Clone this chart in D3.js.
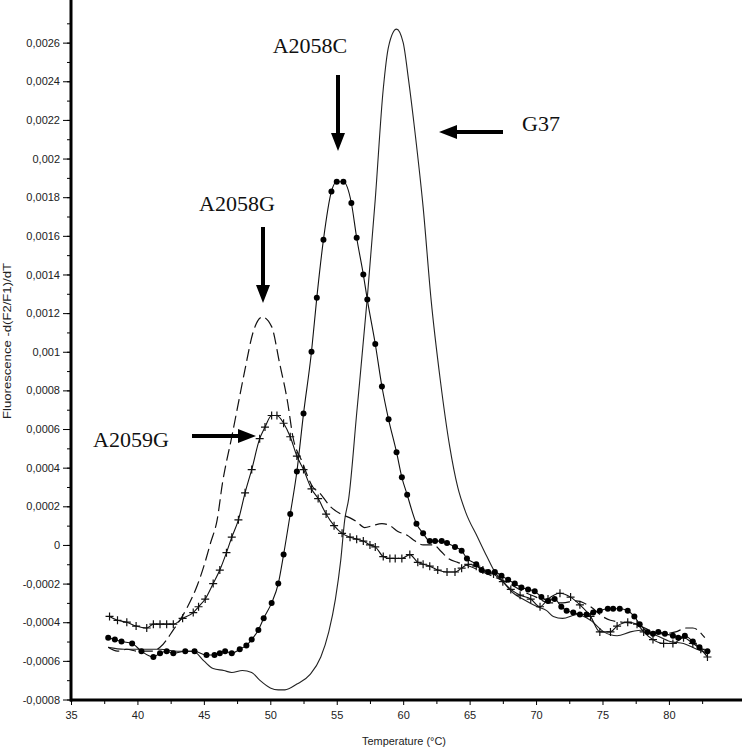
<!DOCTYPE html>
<html>
<head>
<meta charset="utf-8">
<script src="https://cdn.jsdelivr.net/npm/d3@7"></script>
<style>
body { margin: 0; background: #fff; }
svg { display: block; }
.axis path, .axis line { stroke: #000; }
.axis text { font-family: "Liberation Sans", Arial, sans-serif; font-size: 11px; fill: #222; }
.note { font-family: "Liberation Serif", "Times New Roman", serif; font-size: 22px; fill: #111; }
</style>
</head>
<body>
<div id="chart"></div>
<script>
// temperature (C) and -d(F2/F1)/dT values
var g37T = [37.8,39.0,40.5,41.7,43.0,44.2,45.0,45.7,46.5,47.1,47.9,48.6,49.2,50.0,50.6,51.1,52.0,53.0,53.8,54.4,54.9,55.3,55.6,55.9,56.5,57.3,57.9,58.5,58.9,59.5,60.0,60.4,60.9,61.5,62.1,62.8,63.5,64.1,64.7,65.6,66.3,66.9,67.5,68.3,69.0,70.1,70.8,71.3,72.0,73.1,74.1,75.1,76.1,77.1,78.1,79.1,80.1,81.1,82.1,82.9];
var g37V = [-0.00053,-0.00054,-0.00054,-0.00054,-0.00055,-0.00055,-0.0006,-0.00064,-0.00065,-0.00066,-0.00065,-0.00066,-0.0007,-0.00074,-0.00075,-0.00075,-0.00072,-0.00067,-0.00058,-0.00045,-0.00028,-0.00008,0.00013,0.00024,0.00068,0.00128,0.00179,0.00236,0.00258,0.00267,0.0026,0.00241,0.00213,0.00175,0.00127,0.00085,0.00051,0.0003,0.00017,0.00004,-0.00006,-0.00014,-0.00019,-0.00025,-0.00028,-0.00032,-0.00034,-0.00037,-0.00038,-0.00036,-0.00039,-0.00045,-0.00047,-0.00045,-0.00044,-0.00047,-0.0005,-0.00051,-0.00054,-0.00056];

var a2058cT = [37.8,38.3,38.8,39.6,40.3,41.2,41.7,42.2,42.7,43.6,44.3,45.2,45.8,46.2,46.6,47.1,47.7,48.2,48.6,49.1,49.5,50.1,50.6,51.0,51.5,52.0,52.5,53.1,53.5,54.0,54.6,55.0,55.5,56.1,56.5,57.0,57.3,57.9,58.4,58.9,59.5,59.9,60.3,61.0,61.5,62.0,62.4,62.9,63.3,63.9,64.4,64.8,65.5,65.9,66.4,66.9,67.4,67.9,68.4,68.9,69.4,69.9,70.4,70.9,71.4,71.9,72.3,72.8,73.3,73.8,74.3,74.8,75.4,75.8,76.3,76.9,77.4,77.8,78.4,78.8,79.2,79.7,80.3,80.7,81.2,81.8,82.3,82.9];
var a2058cV = [-0.00048,-0.00049,-0.0005,-0.00051,-0.00055,-0.00058,-0.00056,-0.00055,-0.00056,-0.00055,-0.00055,-0.00057,-0.00057,-0.00056,-0.00055,-0.00056,-0.00054,-0.00052,-0.00049,-0.00044,-0.00038,-0.0003,-0.0002,-0.00005,0.00016,0.00038,0.00068,0.001,0.00128,0.00158,0.00183,0.00188,0.00188,0.00177,0.00159,0.0014,0.00127,0.00104,0.00082,0.00065,0.00048,0.00035,0.00026,0.00011,0.00006,0.00002,0.00002,0.00002,0.00001,-0.00001,-0.00003,-0.00007,-0.0001,-0.00013,-0.00014,-0.00014,-0.00016,-0.00018,-0.0002,-0.00022,-0.00023,-0.00024,-0.00027,-0.00029,-0.00028,-0.00032,-0.00034,-0.00035,-0.00036,-0.00036,-0.00035,-0.00034,-0.00033,-0.00033,-0.00033,-0.00034,-0.00037,-0.00041,-0.00045,-0.00046,-0.00045,-0.00046,-0.00047,-0.00048,-0.00047,-0.0005,-0.00053,-0.00055];

var a2058gT = [37.8,38.5,39.2,40.0,41.0,41.7,42.7,43.7,44.5,45.0,45.5,46.0,46.4,47.1,47.5,48.1,48.7,49.4,50.1,50.7,51.3,51.7,52.4,53.2,53.7,54.5,55.3,56.0,56.5,57.1,57.7,58.4,59.0,59.6,60.3,60.9,61.5,62.3,62.8,63.4,64.1,65.0,66.0,67.0,68.0,69.0,70.0,71.0,72.0,73.0,74.1,75.0,75.6,76.5,77.5,78.5,79.5,80.5,81.3,81.8,82.7];
var a2058gV = [-0.00053,-0.00055,-0.00054,-0.00055,-0.00055,-0.00053,-0.00044,-0.00033,-0.00021,-0.00011,0.00001,0.00013,0.00032,0.00056,0.0007,0.00091,0.0011,0.00118,0.00113,0.00094,0.00074,0.00056,0.00043,0.0003,0.00027,0.0002,0.00016,0.00014,0.00012,0.00009,0.0001,0.00011,0.0001,0.00007,0.00005,0.00002,0,0,-0.00003,-0.00007,-0.00009,-0.00011,-0.00014,-0.00017,-0.0002,-0.00024,-0.00027,-0.0003,-0.0003,-0.00029,-0.00032,-0.00037,-0.00039,-0.0004,-0.00041,-0.00044,-0.00046,-0.00045,-0.00043,-0.00043,-0.00048];

var a2059gT = [37.9,38.5,39.2,39.9,40.7,41.2,41.7,42.2,42.7,43.4,44.2,44.6,45.1,45.7,46.2,46.7,47.1,47.6,48.1,48.6,49.2,49.6,50.1,50.5,51.0,51.5,52.0,52.5,53.1,53.6,54.2,54.8,55.4,56.0,56.5,57.0,57.5,57.9,58.5,59.0,59.4,59.9,60.5,61.1,61.5,62.0,62.6,63.3,63.9,64.4,64.9,65.5,66.0,66.8,67.5,68.1,68.8,69.6,70.3,70.9,71.8,72.6,73.3,74.1,74.8,75.6,76.1,76.9,77.6,78.1,78.8,79.6,80.3,81.1,81.8,82.4,82.9];
var a2059gV = [-0.00037,-0.00039,-0.0004,-0.00042,-0.00043,-0.00041,-0.00041,-0.00041,-0.00041,-0.00038,-0.00035,-0.00032,-0.00028,-0.0002,-0.00013,-0.00004,0.00004,0.00013,0.00027,0.00039,0.00055,0.00061,0.00067,0.00067,0.00063,0.00056,0.00046,0.00039,0.00029,0.00024,0.00016,0.0001,0.00006,0.00004,0.00003,0.00002,0,-0.00001,-0.00006,-0.00007,-0.00007,-0.00007,-0.00005,-0.00009,-0.0001,-0.00011,-0.00013,-0.00014,-0.00014,-0.00012,-0.0001,-0.00011,-0.00013,-0.00015,-0.00019,-0.00023,-0.00026,-0.00028,-0.00032,-0.00028,-0.00025,-0.00027,-0.00031,-0.00037,-0.00045,-0.00045,-0.00042,-0.0004,-0.00041,-0.00045,-0.00049,-0.00051,-0.00051,-0.00048,-0.00051,-0.00054,-0.00058];

var xMajor = [35,40,45,50,55,60,65,70,75,80];
var yMajor = [-0.0008,-0.0006,-0.0004,-0.0002,0,0.0002,0.0004,0.0006,0.0008,0.001,0.0012,0.0014,0.0016,0.0018,0.002,0.0022,0.0024,0.0026];

// annotations: label, label position, arrow from -> to
var notes = [
  {text: "A2058C", x: 310, y: 53, x1: 338, y1: 75, x2: 338, y2: 151},
  {text: "G37", x: 541, y: 131, x1: 503, y1: 132, x2: 439, y2: 132},
  {text: "A2058G", x: 237, y: 211, x1: 263, y1: 227, x2: 263, y2: 303},
  {text: "A2059G", x: 131, y: 447, x1: 192, y1: 436, x2: 256, y2: 436}
];

var width = 742, height = 750;

var svg = d3.select("#chart").append("svg")
    .attr("width", width)
    .attr("height", height);

var x = d3.scaleLinear().domain([35, 85.5]).range([71, 742]);
var y = d3.scaleLinear().domain([-0.0008, 0.0028]).range([699.5, 4]);

var fmt = function(d) { return (+d.toFixed(4)).toString().replace(".", ","); };

// minor ticks first, majors on top
svg.append("g")
    .attr("class", "axis")
    .attr("transform", "translate(71,0)")
    .call(d3.axisLeft(y).tickValues(d3.range(-8, 28, 1).map(function(i) { return i * 0.0001; })).tickSize(4).tickFormat(""))
    .select(".domain").remove();

svg.append("g")
    .attr("class", "axis")
    .attr("transform", "translate(71,0)")
    .call(d3.axisLeft(y).tickValues(yMajor).tickSize(8).tickPadding(3).tickFormat(fmt))
    .call(function(g) { g.select(".domain").remove(); });

svg.append("g")
    .attr("class", "axis")
    .attr("transform", "translate(0,700)")
    .call(d3.axisBottom(x).tickValues(d3.range(37.5, 85, 5)).tickSize(4).tickFormat(""))
    .select(".domain").remove();

svg.append("g")
    .attr("class", "axis")
    .attr("transform", "translate(0,700)")
    .call(d3.axisBottom(x).tickValues(xMajor).tickSize(5).tickPadding(6).tickFormat(d3.format("d")))
    .call(function(g) { g.select(".domain").remove(); });

// thick axis lines
svg.append("line").attr("x1", 71).attr("x2", 71).attr("y1", 0).attr("y2", 701.5)
    .attr("stroke", "#000").attr("stroke-width", 3);
svg.append("line").attr("x1", 70).attr("x2", 742).attr("y1", 700).attr("y2", 700)
    .attr("stroke", "#000").attr("stroke-width", 3);

svg.append("text")
    .attr("transform", "translate(11,341) rotate(-90)")
    .attr("text-anchor", "middle")
    .attr("textLength", 156)
    .attr("lengthAdjust", "spacingAndGlyphs")
    .style("font-family", "Liberation Sans, Arial, sans-serif")
    .style("font-size", "11px")
    .attr("fill", "#222")
    .text("Fluorescence -d(F2/F1)/dT");

svg.append("text")
    .attr("x", 404).attr("y", 745)
    .attr("text-anchor", "middle")
    .attr("textLength", 84)
    .attr("lengthAdjust", "spacingAndGlyphs")
    .style("font-family", "Liberation Sans, Arial, sans-serif")
    .style("font-size", "11px")
    .attr("fill", "#222")
    .text("Temperature (°C)");

function pts(ts, vs) { return ts.map(function(t, i) { return [t, vs[i]]; }); }

var line = d3.line()
    .x(function(d) { return x(d[0]); })
    .y(function(d) { return y(d[1]); })
    .curve(d3.curveMonotoneX);

var g37 = pts(g37T, g37V);
var a2058c = pts(a2058cT, a2058cV);
var a2058g = pts(a2058gT, a2058gV);
var a2059g = pts(a2059gT, a2059gV);

svg.append("path").datum(g37).attr("d", line)
    .attr("fill", "none").attr("stroke", "#222").attr("stroke-width", 1.1);

svg.append("path").datum(a2058g).attr("d", line)
    .attr("fill", "none").attr("stroke", "#111").attr("stroke-width", 1.2)
    .attr("stroke-dasharray", "12,5");

svg.append("path").datum(a2059g).attr("d", line)
    .attr("fill", "none").attr("stroke", "#111").attr("stroke-width", 1.1);

svg.selectAll(".plus")
    .data(a2059g)
    .enter().append("path")
    .attr("class", "plus")
    .attr("d", function(d) { return "M" + (x(d[0]) - 4) + "," + y(d[1]) + "h8M" + x(d[0]) + "," + (y(d[1]) - 4) + "v8"; })
    .attr("stroke", "#111").attr("stroke-width", 1.2);

svg.append("path").datum(a2058c).attr("d", line)
    .attr("fill", "none").attr("stroke", "#111").attr("stroke-width", 1.1);

svg.selectAll(".dot")
    .data(a2058c)
    .enter().append("circle")
    .attr("class", "dot")
    .attr("cx", function(d) { return x(d[0]); })
    .attr("cy", function(d) { return y(d[1]); })
    .attr("r", 3)
    .attr("fill", "#000");

// arrows
var ann = svg.selectAll(".ann").data(notes).enter().append("g").attr("class", "ann");

ann.append("text")
    .attr("class", "note")
    .attr("x", function(d) { return d.x; })
    .attr("y", function(d) { return d.y; })
    .attr("text-anchor", "middle")
    .text(function(d) { return d.text; });

ann.append("path")
    .attr("fill", "#000")
    .attr("d", function(d) {
        var dx = d.x2 - d.x1, dy = d.y2 - d.y1;
        var len = Math.sqrt(dx * dx + dy * dy);
        var ux = dx / len, uy = dy / len, px = -uy, py = ux;
        var hl = 18, hw = 7, sw = 2;
        var bx = d.x2 - ux * hl, by = d.y2 - uy * hl;
        return "M" + (d.x1 + px * sw) + "," + (d.y1 + py * sw) +
            "L" + (bx + px * sw) + "," + (by + py * sw) +
            "L" + (bx + px * hw) + "," + (by + py * hw) +
            "L" + d.x2 + "," + d.y2 +
            "L" + (bx - px * hw) + "," + (by - py * hw) +
            "L" + (bx - px * sw) + "," + (by - py * sw) +
            "L" + (d.x1 - px * sw) + "," + (d.y1 - py * sw) + "Z";
    });
</script>
</body>
</html>
